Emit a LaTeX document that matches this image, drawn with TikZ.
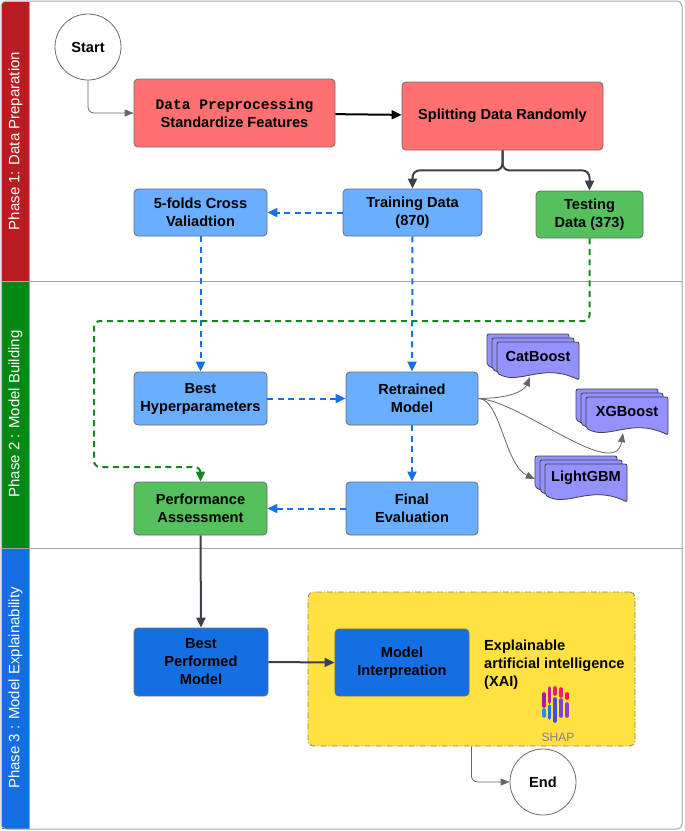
\documentclass[tikz,border=0pt]{standalone}
\usepackage{fontspec}
\setmainfont{Liberation Sans}
\setmonofont{Liberation Mono}
\usetikzlibrary{positioning}
\usetikzlibrary{arrows.meta}
\definecolor{lanered}{RGB}{185,29,33}
\definecolor{lanegreen}{RGB}{5,135,20}
\definecolor{laneblue}{RGB}{20,110,225}
\definecolor{prepred}{RGB}{255,112,112}
\definecolor{lightblue}{RGB}{106,174,255}
\definecolor{okgreen}{RGB}{84,192,94}
\definecolor{darkblue}{RGB}{19,111,226}
\definecolor{docpurple}{RGB}{148,146,255}
\definecolor{xaiyellow}{RGB}{255,225,66}
\definecolor{flowblue}{RGB}{22,113,230}
\definecolor{flowgreen}{RGB}{22,135,30}
\definecolor{darkline}{RGB}{60,64,72}
\tikzset{
    boxn/.style = {rectangle, rounded corners=4pt, draw=gray!85!black, line width=0.8pt, align=center, inner sep=0pt, font=\fontsize{14.6}{18}\selectfont\bfseries, text=black},
    boxr/.style = {boxn, fill=prepred},
    boxb/.style = {boxn, fill=lightblue},
    boxg/.style = {boxn, fill=okgreen},
    boxd/.style = {boxn, fill=darkblue},
    circlen/.style = {circle, draw=gray!85!black, line width=0.8pt, fill=white, minimum size=66pt, inner sep=0pt, font=\fontsize{14.6}{18}\selectfont\bfseries},
    docshape/.style = {draw=darkline, line width=0.8pt, fill=docpurple, rounded corners=2pt},
    docbox/.style = {rectangle, minimum width=82pt, minimum height=38pt, inner sep=0pt},
    doclabel/.style = {inner sep=0pt, font=\fontsize{14.6}{18}\selectfont\bfseries},
    xaibox/.style = {rectangle, rounded corners=5pt, draw=gray, line width=0.8pt, dash pattern=on 6pt off 2pt on 1pt off 2pt, fill=xaiyellow, minimum width=327pt, minimum height=154pt},
    lane/.style = {rotate=90, text=white, inner sep=0pt, font=\fontsize{15}{18}\selectfont},
    laneline/.style = {draw=gray!70, line width=1pt},
    edgen/.style = {-{Triangle[length=10pt,width=9pt]}, line width=2pt, black},
    edged/.style = {-{Triangle[length=10pt,width=9pt]}, line width=2pt, darkline, rounded corners=7pt},
    edgeb/.style = {-{Triangle[length=10pt,width=9pt]}, line width=2pt, flowblue, dash pattern=on 6pt off 4.5pt}, % tuning
    edgeg/.style = {-{Triangle[length=10pt,width=9pt]}, line width=2pt, flowgreen, dash pattern=on 6pt off 4.5pt, rounded corners=6pt}, % test data
    edget/.style = {-{Triangle[length=9pt,width=7pt]}, line width=0.8pt, gray!80!black, rounded corners=6pt}, % thin
    shapbar/.style = {line width=3.6pt, line cap=round}
}
\newcommand{\modeldoc}[4]{% name, x, y, label
    \foreach \d in {10,5,0}{
        \draw[docshape] ({#2-\d},{#3-0.8*\d}) -- ({#2-\d+82},{#3-0.8*\d}) -- ({#2-\d+82},{#3-0.8*\d+38})
            .. controls ({#2-\d+45},{#3-0.8*\d+20}) and ({#2-\d+22},{#3-0.8*\d+44}) .. ({#2-\d},{#3-0.8*\d+31}) -- cycle;
    }
    \node[docbox] at ({#2+41},{#3+19}) (#1) {};
    \node[doclabel] at ({#2+41},{#3+14}) (#1-txt) {#4};
}

\begin{document}
\begin{tikzpicture}[x=1pt,y=-1pt]
\useasboundingbox (0,0) rectangle (685,831);
% lanes
\fill[lanered] (2,2) rectangle (29,281);
\fill[lanegreen] (2,281) rectangle (29,548);
\fill[laneblue] (2,548) rectangle (29,829);
\draw[laneline] (2,281) -- (682,281);
\draw[laneline] (2,548) -- (682,548);
\draw[laneline] (29,2) -- (29,829);
\draw[laneline, rounded corners=5pt] (1,1) rectangle (682,829);
\node[lane] at (15.5,141) (lane1) {Phase 1: Data Preparation};
\node[lane] at (15.5,414) (lane2) {Phase 2 : Model Building};
\node[lane] at (15.5,688) (lane3) {Phase 3 : Model Explainability};

% phase 1
\node[circlen] at (88,47) (start) {Start};
\node[boxr, minimum width=201pt, minimum height=68pt] at (234.5,113) (prep) {{\ttfamily Data Preprocessing}\\Standardize Features};
\node[boxr, minimum width=201pt, minimum height=68pt] at (502.5,116) (split) {Splitting Data Randomly};
\node[boxb, minimum width=139pt, minimum height=47pt] at (412.5,212.5) (train) {Training Data\\(870)};
\node[boxg, minimum width=107pt, minimum height=47pt] at (589.5,214.5) (test) {Testing\\Data (373)};
\node[boxb, minimum width=133pt, minimum height=47pt] at (200.5,212.5) (cv) {5-folds Cross\\Valiadtion};

% phase 2
\node[boxb, minimum width=133pt, minimum height=53pt] at (200.5,398.5) (hyper) {Best\\Hyperparameters};
\node[boxb, minimum width=132pt, minimum height=53pt] at (412,398.5) (retrain) {Retrained\\Model};
\node[boxg, minimum width=133pt, minimum height=53pt] at (200.5,508.5) (perf) {Performance\\Assessment};
\node[boxb, minimum width=132pt, minimum height=53pt] at (412,508.5) (final) {Final\\Evaluation};
\modeldoc{cat}{497}{342}{CatBoost}
\modeldoc{xgb}{586}{397}{XGBoost}
\modeldoc{lgb}{545}{464}{LightGBM}

% phase 3
\node[boxd, minimum width=134pt, minimum height=68pt] at (201,662) (bestmod) {Best\\Performed\\Model};
\node[xaibox] at (471.5,669) (xai) {};
\node[boxd, minimum width=134pt, minimum height=67pt] at (402,662.5) (interp) {Model\\Interpreation};
\node[anchor=north west, inner sep=0pt, align=left, font=\fontsize{14.6}{18}\selectfont\bfseries] at (484,640) (xaitext) {Explainable\\artificial intelligence\\(XAI)};
\draw[shapbar, color={rgb,255:red,176;green,24;blue,160}] (544,694) -- (544,706);
\draw[shapbar, color={rgb,255:red,30;green,144;blue,255}] (544,710) -- (544,716);
\draw[shapbar, color={rgb,255:red,196;green,30;blue,150}] (549.5,688) -- (549.5,702);
\draw[shapbar, color={rgb,255:red,32;green,112;blue,240}] (549.5,706) -- (549.5,718);
\draw[shapbar, color={rgb,255:red,224;green,32;blue,122}] (555,688) -- (555,694);
\draw[shapbar, color={rgb,255:red,64;green,80;blue,224}] (555,699) -- (555,721);
\draw[shapbar, color={rgb,255:red,240;green,32;blue,106}] (561,689) -- (561,696);
\draw[shapbar, color={rgb,255:red,120;green,72;blue,216}] (561,700) -- (561,716);
\draw[shapbar, color={rgb,255:red,255;green,16;blue,80}] (567,694) -- (567,698);
\draw[shapbar, color={rgb,255:red,138;green,64;blue,200}] (567,704) -- (567,716);
\node[inner sep=0pt, text=gray, font=\fontsize{12}{14}\selectfont] at (558,737) (shap) {SHAP};
\node[circlen] at (543,782) (finish) {End};

% connectors
\draw[edget] (start.south) |- (prep.west);
\draw[edgen] (prep) -- (split);
\draw[edged] (split.south) -- ++(0,20) -| (train.north);
\draw[edged] (split.south) -- ++(0,20) -| (test.north);
\draw[edgeb] (train.west) -- (cv.east);
\draw[edgeb] (cv.south) -- (hyper.north);
\draw[edgeb] (train.south) -- (retrain.north);
\draw[edgeb] (hyper.east) -- (retrain.west);
\draw[edgeb] (retrain.south) -- (final.north);
\draw[edgeb] (final.west) -- (perf.east);
\coordinate (loopt) at (94,321);
\coordinate (loopb) at (94,467);
\draw[edgeg] (test.south) |- (loopt) -- (loopb) -| (perf.north);
\draw[edget] (retrain.east) .. controls +(30,0) and +(-6,14) .. ([xshift=-8pt,yshift=3pt]cat.south);
\draw[edget] (retrain.east) .. controls +(42,2) and +(-8,49) .. ([xshift=-4pt,yshift=2pt]xgb.south);
\draw[edget] (retrain.east) .. controls +(22,0) and +(-30,-14) .. ([xshift=-10pt,yshift=4pt]lgb.west);
\draw[edged] (perf.south) -- (bestmod.north);
\draw[edged] (bestmod.east) -- (interp.west);
\draw[edget] (xai.south) |- (finish.west);

\end{tikzpicture}
\end{document}
